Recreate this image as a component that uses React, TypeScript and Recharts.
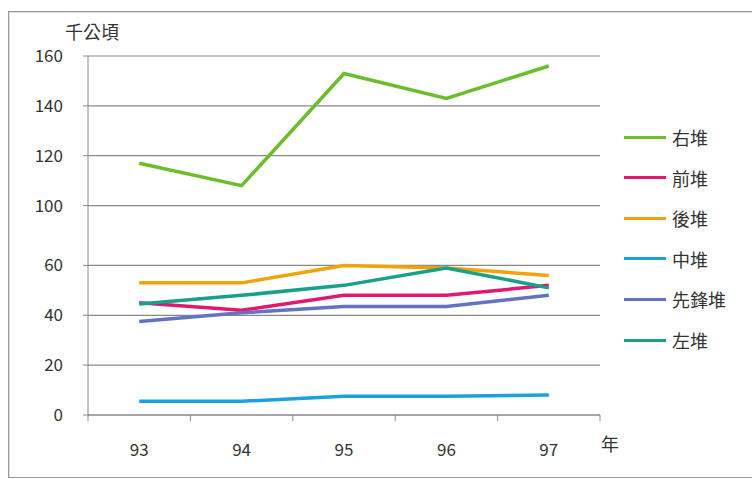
import React from "react";
import { CartesianGrid, Line, LineChart, XAxis, YAxis } from "recharts";

const years = ["93", "94", "95", "96", "97"];
const rightPile = [117, 108, 153, 143, 156];
const frontPile = [45, 42, 48, 48, 52];
const rearPile = [53, 53, 60, 59, 56];
const middlePile = [5.5, 5.5, 7.5, 7.5, 8];
const vanguardPile = [37.5, 41, 43.5, 43.5, 48];
const leftPile = [44.5, 48, 52, 59, 51];
const yTickValues = [0, 20, 40, 60, 100, 120, 140, 160];

const series = [
  { key: "右堆", values: rightPile, color: "#6cbd2b" },
  { key: "前堆", values: frontPile, color: "#e2176e" },
  { key: "後堆", values: rearPile, color: "#f0a30a" },
  { key: "中堆", values: middlePile, color: "#1ba1e2" },
  { key: "先鋒堆", values: vanguardPile, color: "#6472c4" },
  { key: "左堆", values: leftPile, color: "#18a089" },
];

// the axis is broken between 60 and 100
const toAxis = (v: number) =>
  v <= 60 ? v : v >= 100 ? v - 16 : 60 + (v - 60) * 0.6;

const data = years.map((year, i) => {
  const row: Record<string, string | number> = { year };
  series.forEach((s) => {
    row[s.key] = s.values[i];
  });
  return row;
});

const yTicks = yTickValues.map(toAxis);
const tickLabel = (v: number) => {
  const idx = yTicks.indexOf(v);
  return idx >= 0 ? String(yTickValues[idx]) : "";
};

const FONT = '"Noto Sans CJK TC", "Noto Sans", sans-serif';
const TEXT = "#333";
const AXIS = "#888";
const BAND = 512 / years.length;

const YearTick = (props: any) => {
  const { x, y, payload, index } = props;
  return (
    <g>
      <line x1={x - BAND / 2} x2={x - BAND / 2} y1={y} y2={y + 6} stroke={AXIS} />
      {index === years.length - 1 && (
        <line x1={x + BAND / 2} x2={x + BAND / 2} y1={y} y2={y + 6} stroke={AXIS} />
      )}
      <text
        x={x}
        y={y + 33}
        textAnchor="middle"
        dominantBaseline="central"
        fill={TEXT}
        fontSize={17}
        fontFamily={FONT}
      >
        {payload.value}
      </text>
    </g>
  );
};

export default function App() {
  return (
    <div
      style={{
        position: "absolute",
        left: 0,
        top: 0,
        width: 752,
        height: 479,
        background: "#fff",
        overflow: "hidden",
        fontFamily: FONT,
      }}
    >
      <div
        style={{
          position: "absolute",
          left: 8,
          top: 11,
          width: 760,
          height: 465,
          border: "1px solid #999",
          boxShadow: "inset 1px 1px 0 #ddd",
        }}
      />
      <div
        style={{
          position: "absolute",
          left: 65,
          top: 19,
          fontSize: 18,
          color: TEXT,
          lineHeight: "24px",
        }}
      >
        千公頃
      </div>
      <div
        style={{
          position: "absolute",
          left: 601,
          top: 431,
          fontSize: 18,
          color: TEXT,
          lineHeight: "24px",
        }}
      >
        年
      </div>
      <LineChart
        width={752}
        height={479}
        data={data}
        margin={{ top: 56, right: 152, bottom: 34, left: 28 }}
        style={{ position: "absolute", left: 0, top: 0 }}
      >
        <CartesianGrid vertical={false} stroke={AXIS} strokeWidth={1.2} />
        <XAxis
          dataKey="year"
          height={30}
          stroke={AXIS}
          tickLine={false}
          tickSize={0}
          tickMargin={0}
          interval={0}
          padding={{ left: BAND / 2, right: BAND / 2 }}
          tick={<YearTick />}
        />
        <YAxis
          width={60}
          domain={[0, 144]}
          ticks={yTicks}
          type="number"
          stroke={AXIS}
          tickSize={5}
          tickMargin={20}
          tickFormatter={tickLabel}
          tick={{ fill: TEXT, fontSize: 17, fontFamily: FONT }}
          allowDataOverflow
        />
        {series.map((s) => (
          <Line
            key={s.key}
            dataKey={(d: any) => toAxis(d[s.key])}
            name={s.key}
            stroke={s.color}
            strokeWidth={3.5}
            dot={false}
            activeDot={false}
            type="linear"
            isAnimationActive={false}
          />
        ))}
      </LineChart>
      {series.map((s, i) => (
        <div
          key={s.key}
          style={{
            position: "absolute",
            left: 624,
            top: 137 + i * 40.6 - 12,
            height: 24,
            display: "flex",
            alignItems: "center",
            fontSize: 18,
            color: TEXT,
          }}
        >
          <span
            style={{
              display: "inline-block",
              width: 42,
              height: 3,
              background: s.color,
              marginRight: 6,
            }}
          />
          {s.key}
        </div>
      ))}
    </div>
  );
}
